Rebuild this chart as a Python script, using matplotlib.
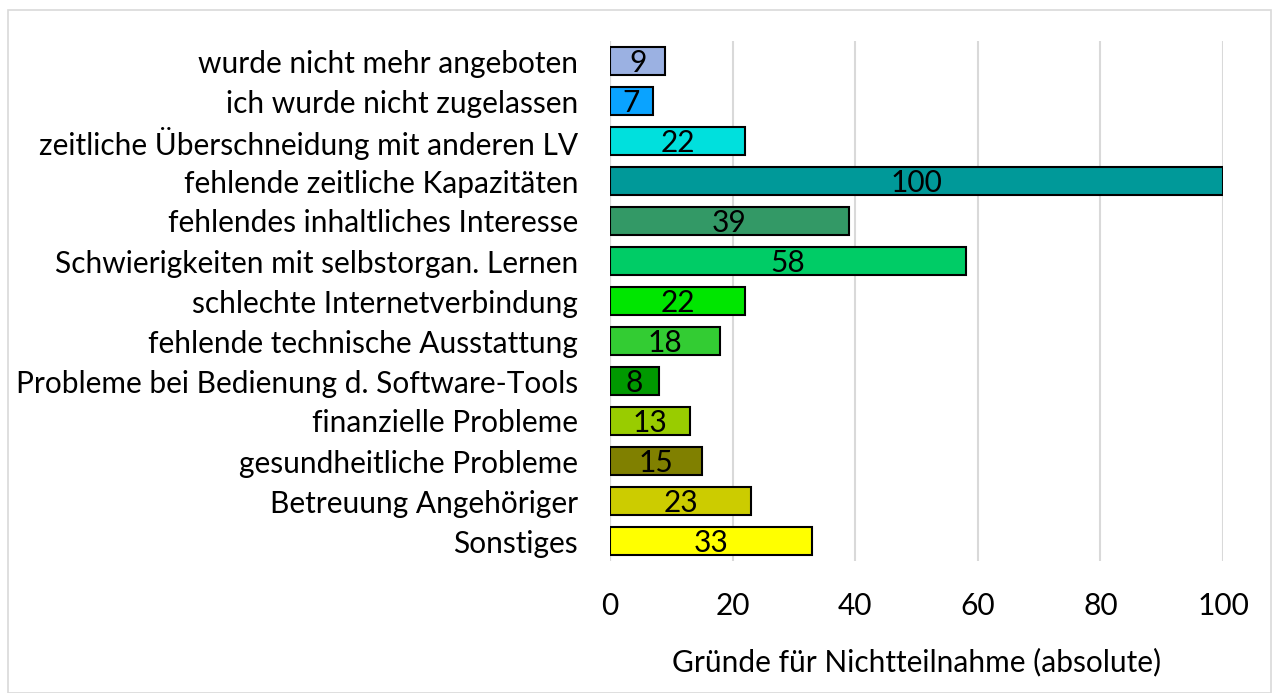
import matplotlib
matplotlib.use("Agg")
import matplotlib.pyplot as plt
from matplotlib.patches import Rectangle

categories = [
    "wurde nicht mehr angeboten",
    "ich wurde nicht zugelassen",
    "zeitliche Überschneidung mit anderen LV",
    "fehlende zeitliche Kapazitäten",
    "fehlendes inhaltliches Interesse",
    "Schwierigkeiten mit selbstorgan. Lernen",
    "schlechte Internetverbindung",
    "fehlende technische Ausstattung",
    "Probleme bei Bedienung d. Software-Tools",
    "finanzielle Probleme",
    "gesundheitliche Probleme",
    "Betreuung Angehöriger",
    "Sonstiges",
]
values = [9, 7, 22, 100, 39, 58, 22, 18, 8, 13, 15, 23, 33]
colors = ["#9BB1E2", "#0AA3FF", "#00E0DD", "#009999", "#339966", "#00CC66",
          "#00E600", "#33CC33", "#009900", "#99CC00", "#808000", "#CCCC00", "#FFFF00"]
xticks = [0, 20, 40, 60, 80, 100]
xlabel = "Gründe für Nichtteilnahme (absolute)"

plt.rcParams['font.family'] = ['Lato', 'DejaVu Sans']
FS = 21.5

fig = plt.figure(figsize=(12.79, 6.93), dpi=100)
ax = fig.add_axes([610/1279, 1 - 561/693, (1223-610)/1279, (561-41)/693])

ypos = list(range(len(categories)))
bars = ax.barh(ypos, values, height=0.68, color=colors, edgecolor="black", linewidth=1.5, zorder=3)
for b, v in zip(bars, values):
    ax.text(b.get_width() / 2, b.get_y() + b.get_height() / 2 + 0.06, str(v),
            ha="center", va="center", fontsize=FS, color="black", zorder=4)

ax.set_ylim(len(categories) - 0.5, -0.5)
ax.set_xlim(0, 100)
ax.set_yticks(ypos)
ax.set_yticklabels(categories, fontsize=FS)
ax.set_xticks(xticks)
ax.set_xticklabels([str(t) for t in xticks], fontsize=FS)
ax.tick_params(axis="both", length=0)
ax.tick_params(axis="y", pad=23)
ax.tick_params(axis="x", pad=22)
ax.set_xlabel(xlabel, fontsize=FS, labelpad=20)
ax.grid(axis="x", color="#D9D9D9", linewidth=1.5, zorder=0)
for s in ax.spines.values():
    s.set_visible(False)
ax.axvline(0, color="#D9D9D9", linewidth=1.5, zorder=1)

fig.patches.append(Rectangle((8/1279, 0), (1271-8)/1279, 1 - 10/693, transform=fig.transFigure,
                             fill=False, edgecolor="#D9D9D9", linewidth=1.2))

fig.savefig("out.png", dpi=100)
